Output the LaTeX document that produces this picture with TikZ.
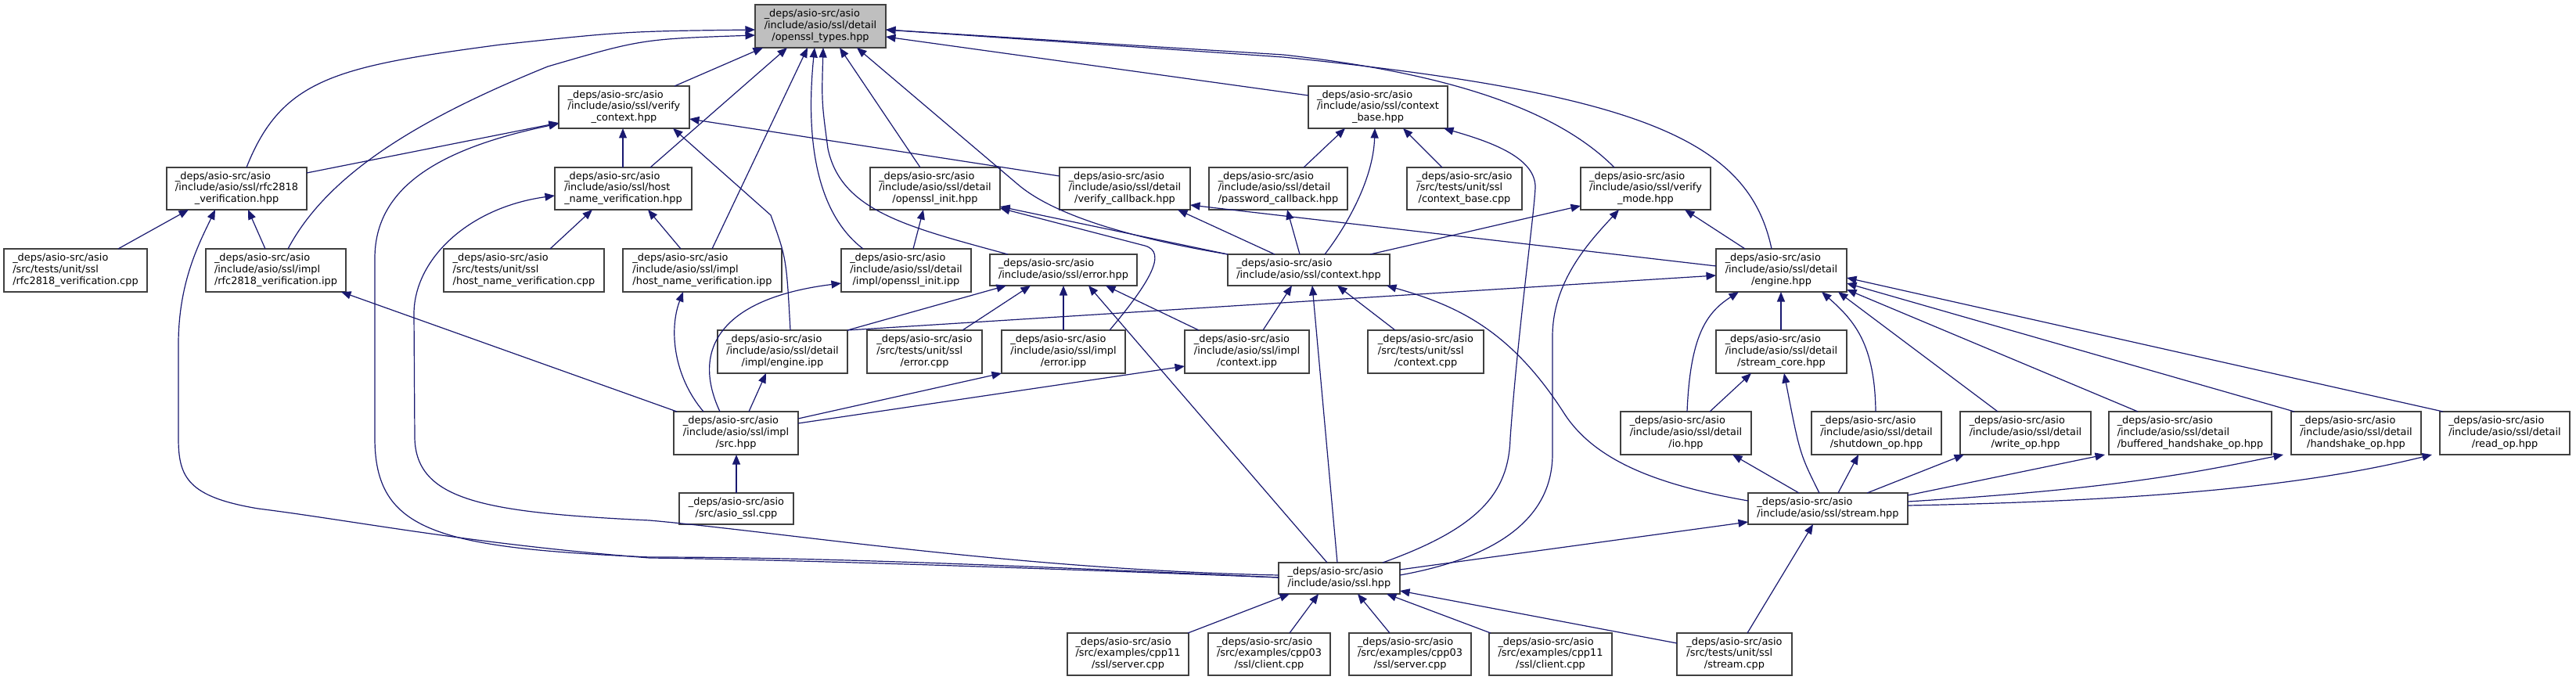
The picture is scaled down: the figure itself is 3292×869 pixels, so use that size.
\documentclass[tikz,border=0pt]{standalone}
\usepackage{fontspec}
\setmainfont{DejaVu Sans}
\usetikzlibrary{arrows.meta}
\definecolor{edgeblue}{HTML}{191970}
\definecolor{bordergrey}{HTML}{404040}
\definecolor{maingrey}{HTML}{BFBFBF}
\newcommand{\labthree}[3]{\begin{tabular}{@{}l@{}}#1\\#2\\\multicolumn{1}{@{}c@{}}{#3}\end{tabular}}
\newcommand{\labtwo}[2]{\begin{tabular}{@{}l@{}}#1\\\multicolumn{1}{@{}c@{}}{#2}\end{tabular}}
\newcommand{\depsp}{\_deps/asio-src/asio}
\newcommand{\nd}[7][]{\node[nbox,#1,minimum width={(#4-#3)*1pt},minimum height={(#6-#5)*1pt}] (#2) at ({(#3+#4)/2},{(#5+#6)/2}) {#7};}
\tikzset{
  nbox/.style={draw=bordergrey,fill=white,line width=1.3pt,inner sep=0pt,outer sep=0pt,rectangle,
    font=\fontsize{12.9pt}{14.6pt}\selectfont},
  dep/.style={draw=edgeblue,line width=1.2pt,-{Triangle[length=12.5pt,width=10pt]},color=edgeblue}
}
\begin{document}
\begin{tikzpicture}[x=1pt,y=-1pt]
\fill[white] (0,0) rectangle (3292,869);
\useasboundingbox (0,0) rectangle (3292,869);
% nodes
\nd[fill=maingrey]{main}{965}{1132}{6}{61}{\labthree{\depsp}{/include/asio/ssl/detail}{/openssl\_types.hpp}}
\nd{vctx}{714}{881}{110}{164}{\labthree{\depsp}{/include/asio/ssl/verify}{\_context.hpp}}
\nd{cbase}{1672}{1850}{110}{164}{\labthree{\depsp}{/include/asio/ssl/context}{\_base.hpp}}
\nd{rfc}{213}{392}{214}{268}{\labthree{\depsp}{/include/asio/ssl/rfc2818}{\_verification.hpp}}
\nd{hnv}{709}{884}{214}{268}{\labthree{\depsp}{/include/asio/ssl/host}{\_name\_verification.hpp}}
\nd{oinit}{1112}{1278}{214}{268}{\labthree{\depsp}{/include/asio/ssl/detail}{/openssl\_init.hpp}}
\nd{vcb}{1354}{1521}{214}{268}{\labthree{\depsp}{/include/asio/ssl/detail}{/verify\_callback.hpp}}
\nd{pcb}{1545}{1722}{214}{268}{\labthree{\depsp}{/include/asio/ssl/detail}{/password\_callback.hpp}}
\nd{cbasecpp}{1798}{1945}{214}{268}{\labthree{\depsp}{/src/tests/unit/ssl}{/context\_base.cpp}}
\nd{vmode}{2020}{2186}{214}{268}{\labthree{\depsp}{/include/asio/ssl/verify}{\_mode.hpp}}
\nd{rfccpp}{5}{188}{318}{373}{\labthree{\depsp}{/src/tests/unit/ssl}{/rfc2818\_verification.cpp}}
\nd{rfcipp}{263}{442}{318}{373}{\labthree{\depsp}{/include/asio/ssl/impl}{/rfc2818\_verification.ipp}}
\nd{hnvcpp}{567}{772}{318}{373}{\labthree{\depsp}{/src/tests/unit/ssl}{/host\_name\_verification.cpp}}
\nd{hnvipp}{796}{999}{318}{373}{\labthree{\depsp}{/include/asio/ssl/impl}{/host\_name\_verification.ipp}}
\nd{oinitipp}{1075}{1241}{318}{373}{\labthree{\depsp}{/include/asio/ssl/detail}{/impl/openssl\_init.ipp}}
\nd{errhpp}{1265}{1453}{325}{365}{\labtwo{\depsp}{/include/asio/ssl/error.hpp}}
\nd{ctxhpp}{1569}{1776}{325}{365}{\labtwo{\depsp}{/include/asio/ssl/context.hpp}}
\nd{engine}{2193}{2360}{318}{373}{\labthree{\depsp}{/include/asio/ssl/detail}{/engine.hpp}}
\nd{engipp}{917}{1083}{422}{477}{\labthree{\depsp}{/include/asio/ssl/detail}{/impl/engine.ipp}}
\nd{errcpp}{1108}{1255}{422}{477}{\labthree{\depsp}{/src/tests/unit/ssl}{/error.cpp}}
\nd{erripp}{1280}{1438}{422}{477}{\labthree{\depsp}{/include/asio/ssl/impl}{/error.ipp}}
\nd{ctxipp}{1514}{1673}{422}{477}{\labthree{\depsp}{/include/asio/ssl/impl}{/context.ipp}}
\nd{ctxcpp}{1748}{1896}{422}{477}{\labthree{\depsp}{/src/tests/unit/ssl}{/context.cpp}}
\nd{score}{2193}{2360}{422}{477}{\labthree{\depsp}{/include/asio/ssl/detail}{/stream\_core.hpp}}
\nd{src}{861}{1020}{526}{581}{\labthree{\depsp}{/include/asio/ssl/impl}{/src.hpp}}
\nd{io}{2071}{2238}{526}{581}{\labthree{\depsp}{/include/asio/ssl/detail}{/io.hpp}}
\nd{shut}{2315}{2481}{526}{581}{\labthree{\depsp}{/include/asio/ssl/detail}{/shutdown\_op.hpp}}
\nd{write}{2505}{2672}{526}{581}{\labthree{\depsp}{/include/asio/ssl/detail}{/write\_op.hpp}}
\nd{bhs}{2695}{2903}{526}{581}{\labthree{\depsp}{/include/asio/ssl/detail}{/buffered\_handshake\_op.hpp}}
\nd{hs}{2928}{3094}{526}{581}{\labthree{\depsp}{/include/asio/ssl/detail}{/handshake\_op.hpp}}
\nd{read}{3118}{3284}{526}{581}{\labthree{\depsp}{/include/asio/ssl/detail}{/read\_op.hpp}}
\nd{asiossl}{868}{1014}{630}{670}{\labtwo{\depsp}{/src/asio\_ssl.cpp}}
\nd{stream}{2234}{2438}{630}{670}{\labtwo{\depsp}{/include/asio/ssl/stream.hpp}}
\nd{ssl}{1634}{1789}{719}{759}{\labtwo{\depsp}{/include/asio/ssl.hpp}}
\nd{s11}{1364}{1519}{809}{863}{\labthree{\depsp}{/src/examples/cpp11}{/ssl/server.cpp}}
\nd{c03}{1544}{1700}{809}{863}{\labthree{\depsp}{/src/examples/cpp03}{/ssl/client.cpp}}
\nd{s03}{1724}{1880}{809}{863}{\labthree{\depsp}{/src/examples/cpp03}{/ssl/server.cpp}}
\nd{c11}{1903}{2060}{809}{863}{\labthree{\depsp}{/src/examples/cpp11}{/ssl/client.cpp}}
\nd{streamcpp}{2143}{2290}{809}{863}{\labthree{\depsp}{/src/tests/unit/ssl}{/stream.cpp}}
% edges into openssl_types.hpp
\draw[dep] (vctx.north -| 862,0) -- (main.south -| 975,0);
\draw[dep] (hnv.north -| 831,0) -- (main.south -| 1006,0);
\draw[dep] (hnvipp.north -| 910,0) -- (main.south -| 1032,0);
\draw[dep] (oinitipp.north -| 1103,0) .. controls (1040,270) and (1030,170) .. (main.south -| 1041,0);
\draw[dep] (errhpp.north -| 1288,0) .. controls (1160,290) and (1075,270) .. (1058,190) .. controls (1050,130) .. (main.south -| 1052,0);
\draw[dep] (oinit.north -| 1176,0) -- (main.south -| 1073,0);
\draw[dep] (ctxhpp.north west) .. controls (1420,300) and (1338,268) .. (1300,235) -- (main.south -| 1095,0);
\draw[dep] (cbase.west |- 0,122) -- (main.east |- 0,47);
\draw[dep] (vmode.north -| 2063,0) .. controls (1980,130) and (1820,90) .. (1640,70) -- (main.east |- 0,38);
\draw[dep] (engine.north -| 2264,0) .. controls (2235,180) and (2100,120) .. (1640,73) -- (main.east |- 0,38);
\draw[dep] (rfc.north -| 315,0) .. controls (360,100) and (430,85) .. (640,57) .. controls (800,40) .. (main.west |- 0,38);
\draw[dep] (rfcipp.north -| 368,0) .. controls (420,220) and (540,150) .. (700,85) .. controls (820,50) .. (main.west |- 0,45);
% verify_context.hpp
\draw[dep] (rfc.east |- 0,221) -- (vctx.west |- 0,157);
\draw[dep] (ssl.west |- 0,738) .. controls (1200,718) and (1000,712) .. (830,712) .. controls (560,700) and (479,680) .. (479,560) -- (479,330) .. controls (479,240) and (560,190) .. (vctx.west |- 0,158);
\draw[dep] (hnv.north -| 796,0) -- (vctx.south -| 796,0);
\draw[dep] (engipp.north -| 1010,0) .. controls (1005,330) .. (985,275) -- (vctx.south -| 860,0);
\draw[dep] (vcb.west |- 0,225) -- (vctx.east |- 0,152);
% rfc2818_verification.hpp
\draw[dep] (rfccpp.north -| 151,0) -- (rfc.south -| 241,0);
\draw[dep] (rfcipp.north -| 339,0) -- (rfc.south -| 317,0);
\draw[dep] (ssl.west |- 0,738) .. controls (1300,725) and (1000,715) .. (830,713) .. controls (600,695) and (450,665) .. (330,650) .. controls (240,635) and (228,610) .. (228,560) -- (228,440) .. controls (228,360) and (255,310) .. (rfc.south -| 275,0);
% host_name_verification.hpp
\draw[dep] (hnvcpp.north -| 703,0) -- (hnv.south -| 757,0);
\draw[dep] (hnvipp.north -| 870,0) -- (hnv.south -| 828,0);
\draw[dep] (ssl.west |- 0,735) .. controls (1300,728) and (1000,680) .. (830,665) .. controls (620,655) and (532,640) .. (530,560) -- (529,400) .. controls (530,330) and (600,265) .. (hnv.west |- 0,250);
% openssl_init.hpp
\draw[dep] (oinitipp.north -| 1167,0) -- (oinit.south -| 1180,0);
\draw[dep] (ctxhpp.north west) -- (oinit.east |- 0,264);
\draw[dep] (erripp.north -| 1418,0) .. controls (1470,360) and (1492,322) .. (1463,314) -- (oinit.east |- 0,266);
% verify_callback, password_callback, context_base
\draw[dep] (ctxhpp.north -| 1629,0) -- (vcb.south -| 1505,0);
\draw[dep] (engine.west |- 0,340) -- (vcb.east |- 0,262);
\draw[dep] (ctxhpp.north -| 1661,0) -- (pcb.south -| 1645,0);
\draw[dep] (pcb.north -| 1666,0) -- (cbase.south -| 1719,0);
\draw[dep] (ctxhpp.north -| 1693,0) .. controls (1720,290) and (1755,230) .. (cbase.south -| 1757,0);
\draw[dep] (cbasecpp.north -| 1843,0) -- (cbase.south -| 1793,0);
\draw[dep] (ssl.north -| 1767,0) .. controls (1890,675) and (1928,630) .. (1930,560) .. controls (1940,420) and (1960,280) .. (1962,240) .. controls (1963,200) and (1900,180) .. (cbase.south -| 1845,0);
% verify_mode.hpp
\draw[dep] (ctxhpp.north -| 1751,0) -- (vmode.west |- 0,263);
\draw[dep] (ssl.east |- 0,735) .. controls (1900,715) and (1984,670) .. (1984,580) -- (1984,430) .. controls (1984,360) and (2030,310) .. (vmode.south -| 2069,0);
\draw[dep] (engine.north -| 2230,0) -- (vmode.south -| 2153,0);
% error.hpp
\draw[dep] (engipp.north east) -- (errhpp.south -| 1286,0);
\draw[dep] (errcpp.north -| 1230,0) -- (errhpp.south -| 1317,0);
\draw[dep] (erripp.north -| 1359,0) -- (errhpp.south -| 1359,0);
\draw[dep] (ssl.north -| 1696,0) -- (errhpp.south -| 1391,0);
\draw[dep] (ctxipp.north -| 1532,0) -- (errhpp.south -| 1413,0);
% context.hpp
\draw[dep] (ctxipp.north -| 1614,0) -- (ctxhpp.south -| 1651,0);
\draw[dep] (ssl.north -| 1709,0) -- (ctxhpp.south -| 1677,0);
\draw[dep] (ctxcpp.north -| 1783,0) -- (ctxhpp.south -| 1709,0);
\draw[dep] (stream.west |- 0,640) .. controls (2120,620) and (2040,590) .. (2000,530) .. controls (1930,420) and (1860,390) .. (ctxhpp.south -| 1772,0);
% engine.hpp
\draw[dep] (engipp.north east) -- (engine.west |- 0,352);
\draw[dep] (io.north -| 2156,0) .. controls (2160,430) and (2180,400) .. (engine.south -| 2222,0);
\draw[dep] (score.north -| 2276,0) -- (engine.south -| 2276,0);
\draw[dep] (shut.north -| 2397,0) .. controls (2396,440) and (2370,410) .. (engine.south -| 2328,0);
\draw[dep] (write.north -| 2553,0) -- (engine.south -| 2349,0);
\draw[dep] (bhs.north -| 2732,0) -- (engine.east |- 0,370);
\draw[dep] (hs.north -| 2932,0) -- (engine.east |- 0,362);
\draw[dep] (read.north -| 3122,0) -- (engine.east |- 0,355);
% stream_core.hpp
\draw[dep] (io.north -| 2185,0) -- (score.south -| 2238,0);
\draw[dep] (stream.north -| 2325,0) .. controls (2300,580) .. (score.south -| 2280,0);
% impl/src.hpp
\draw[dep] (src.north -| 865,0) -- (rfcipp.south -| 436,0);
\draw[dep] (src.north -| 899,0) .. controls (860,480) and (855,420) .. (hnvipp.south -| 873,0);
\draw[dep] (src.north -| 920,0) .. controls (880,440) and (930,380) .. (oinitipp.west |- 0,362);
\draw[dep] (src.north -| 957,0) -- (engipp.south -| 979,0);
\draw[dep] (src.east |- 0,535) -- (erripp.south west);
\draw[dep] (src.east |- 0,541) -- (ctxipp.west |- 0,468);
\draw[dep] (asiossl.north -| 941,0) -- (src.south -| 941,0);
% stream.hpp
\draw[dep] (stream.north -| 2299,0) -- (io.south -| 2214,0);
\draw[dep] (stream.north -| 2349,0) -- (shut.south -| 2375,0);
\draw[dep] (stream.north -| 2386,0) -- (write.south -| 2510,0);
\draw[dep] (stream.east |- 0,633) -- (bhs.south -| 2690,0);
\draw[dep] (stream.east |- 0,641) .. controls (2700,625) and (2800,605) .. (hs.south -| 2918,0);
\draw[dep] (stream.east |- 0,646) .. controls (2750,640) and (2950,620) .. (read.south -| 3108,0);
\draw[dep] (ssl.east |- 0,728) -- (stream.west |- 0,667);
\draw[dep] (streamcpp.north -| 2233,0) -- (stream.south -| 2317,0);
% ssl.hpp
\draw[dep] (streamcpp.west |- 0,822) -- (ssl.east |- 0,755);
\draw[dep] (c11.north -| 1905,0) -- (ssl.south -| 1772,0);
\draw[dep] (s03.north -| 1776,0) -- (ssl.south -| 1735,0);
\draw[dep] (c03.north -| 1648,0) -- (ssl.south -| 1685,0);
\draw[dep] (s11.north -| 1518,0) -- (ssl.south -| 1648,0);
\end{tikzpicture}
\end{document}
